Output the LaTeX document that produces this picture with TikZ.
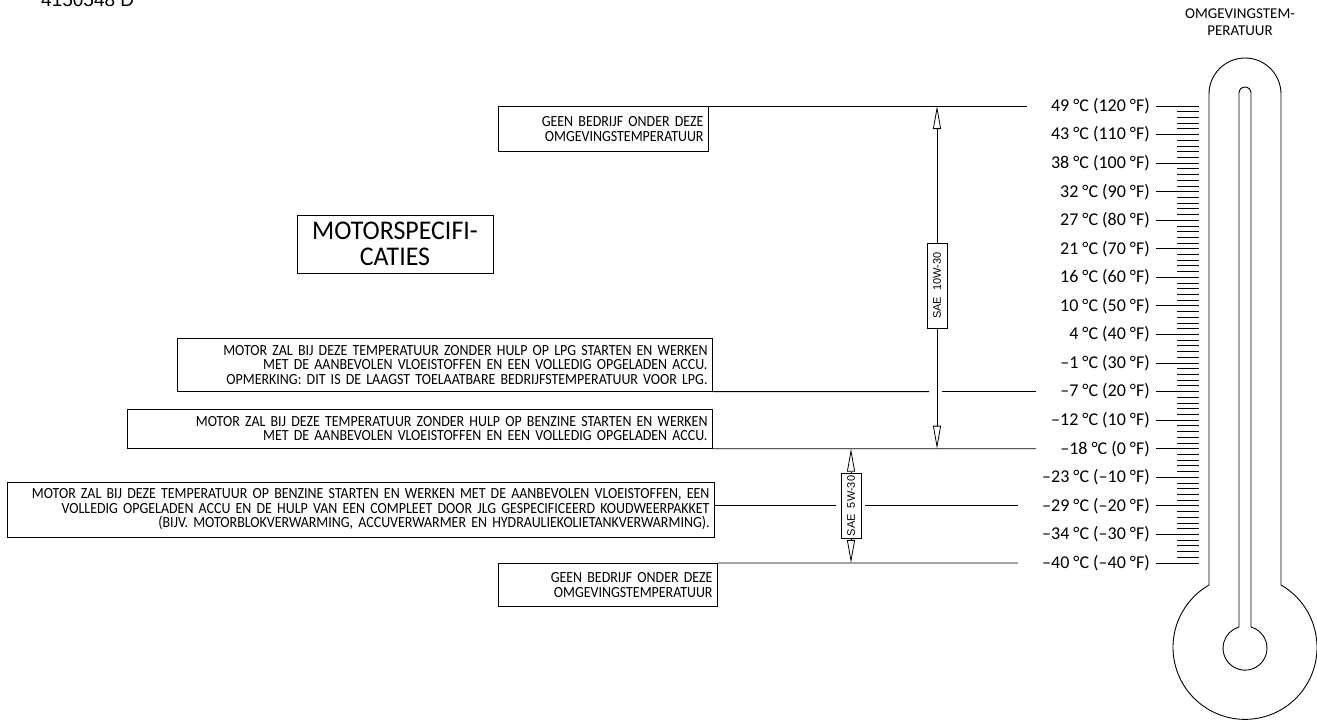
\documentclass[tikz,border=0pt]{standalone}
\usepackage{fontspec}
\setmainfont{Carlito}
\newfontfamily\condfont{Carlito}[FakeStretch=0.9]
\newfontfamily\titlefont{Carlito}[FakeStretch=0.96]
\newfontfamily\arialfont{Liberation Sans}
\usetikzlibrary{arrows.meta}
\newcommand\notefont{\condfont\fontsize{15.5}{14.5}\selectfont}
\tikzset{
  notebox/.style={draw,line width=0.9pt,align=right,font=\notefont,
                  inner xsep=5pt,inner ysep=3pt,text width=#1},
  titlebox/.style={draw,line width=0.9pt,align=center,
                   font=\titlefont\fontsize{27}{26}\selectfont,
                   minimum width=196pt,minimum height=58pt},
  templbl/.style={anchor=east,inner sep=0pt,font=\fontsize{18}{18}\selectfont},
  oilbox/.style={draw,fill=white,line width=0.8pt,rotate=90,inner sep=2pt,
                 minimum height=20pt,font=\arialfont\fontsize{11}{12}\selectfont},
  oilarr/.style={-{Triangle[open,length=23pt,width=8pt]},line width=0.8pt},
  lead/.style={line width=0.9pt},
  glass/.style={line width=0.9pt},
  scaletick/.style={line width=0.9pt},
}

\begin{document}
\begin{tikzpicture}[x=1pt,y=-1pt]
  \useasboundingbox (0,0) rectangle (1317,720);

  \node[anchor=base west,inner sep=0pt,font=\arialfont\fontsize{19}{19}\selectfont]
        (drawno) at (41,6) {4150548 D};

  % notes
  \node[notebox=200pt,minimum height=45pt,anchor=north east] (geentop) at (709,106)
        {GEEN BEDRIJF ONDER DEZE\\OMGEVINGSTEMPERATUUR};
  \node[titlebox] (motorspec) at (395,244) {MOTORSPECIFI-\\CATIES};
  \node[notebox=525pt,minimum height=53pt,anchor=south east] (lpg) at (713,391.6)
        {MOTOR ZAL BIJ DEZE TEMPERATUUR ZONDER HULP OP LPG STARTEN EN WERKEN\\
         MET DE AANBEVOLEN VLOEISTOFFEN EN EEN VOLLEDIG OPGELADEN ACCU.\\
         OPMERKING: DIT IS DE LAAGST TOELAATBARE BEDRIJFSTEMPERATUUR VOOR LPG.};
  \node[notebox=575pt,minimum height=39pt,anchor=south east] (benzine) at (713,448.7)
        {MOTOR ZAL BIJ DEZE TEMPERATUUR ZONDER HULP OP BENZINE STARTEN EN WERKEN\\
         MET DE AANBEVOLEN VLOEISTOFFEN EN EEN VOLLEDIG OPGELADEN ACCU.};
  \node[notebox=697pt,minimum height=55pt,anchor=east] (coldkit) at (715,509.5)
        {MOTOR ZAL BIJ DEZE TEMPERATUUR OP BENZINE STARTEN EN WERKEN MET DE AANBEVOLEN VLOEISTOFFEN, EEN\\
         VOLLEDIG OPGELADEN ACCU EN DE HULP VAN EEN COMPLEET DOOR JLG GESPECIFICEERD KOUDWEERPAKKET\\
         (BIJV. MOTORBLOKVERWARMING, ACCUVERWARMER EN HYDRAULIEKOLIETANKVERWARMING).};
  \node[notebox=209pt,minimum height=43pt,anchor=north east] (geenbot) at (718,563)
        {GEEN BEDRIJF ONDER DEZE\\OMGEVINGSTEMPERATUUR};

  % temperature scale
  \foreach \i/\c/\f in {0/49/120,1/43/110,2/38/100,3/32/90,4/27/80,5/21/70,
                        6/16/60,7/10/50,8/4/40,9/–1/30,10/–7/20,11/–12/10,
                        12/–18/0,13/–23/–10,14/–29/–20,15/–34/–30,16/–40/–40}{
    \node[templbl] (t\i) at (1150,{106+28.56*\i}) {\c\ °C (\f\ °F)};
    \draw[scaletick] (1156,{106+28.56*\i}) -- (1199,{106+28.56*\i});
  }
  \foreach \i in {0,...,15}
    \foreach \k in {1,...,4}
      \draw[scaletick] (1177,{106+28.56*\i+5.712*\k}) -- (1199,{106+28.56*\i+5.712*\k});

  % oil grades
  \node[oilbox,minimum width=85pt] (sae10) at (937,285.5) {SAE\ \ 10W-30};
  \node[oilbox,minimum width=64pt] (sae5) at (851,506) {SAE\ \ 5W-30};
  \draw[oilarr] (sae10.east) -- (sae10.east |- t0.west);
  \draw[oilarr] (sae10.west) -- (sae10.west |- t12.west);
  \draw[oilarr] (sae5.east) -- (sae5.east |- t12.west);
  \draw[oilarr] (sae5.west) -- (sae5.west |- t16.west);

  % leader lines
  \draw[lead] (geentop.north east) -- ([xshift=-24pt]t0.west);
  \draw[lead] (lpg.south east) -- ([xshift=-8pt]sae10.center |- t10.west);
  \draw[lead] ([xshift=5pt]sae10.center |- t10.west) -- ([xshift=-24pt]t10.west);
  \draw[lead] (benzine.south east) -- ([xshift=-24pt]t12.west);
  \draw[lead] (coldkit.east |- t14.west) -- ([xshift=-15pt]sae5.center |- t14.west);
  \draw[lead] ([xshift=14pt]sae5.center |- t14.west) -- ([xshift=-24pt]t14.west);
  \draw[lead] (geenbot.north east) -- ([xshift=-24pt]t16.west);

  % thermometer
  \node[align=center,inner sep=0pt,font=\fontsize{15}{17}\selectfont] (thermotitle)
        at (1240,22) {OMGEVINGSTEM-\\PERATUUR};
  \draw[glass] (1209,585) -- (1209,94) arc[start angle=180,end angle=0,radius=36pt]
               -- (1281,585) arc[start angle=60,end angle=-240,radius=72pt];
  \draw[glass] (1239,627) -- (1239,93) arc[start angle=180,end angle=0,radius=6pt]
               -- (1251,627) arc[start angle=74.2,end angle=-254.2,radius=22pt];
\end{tikzpicture}
\end{document}
